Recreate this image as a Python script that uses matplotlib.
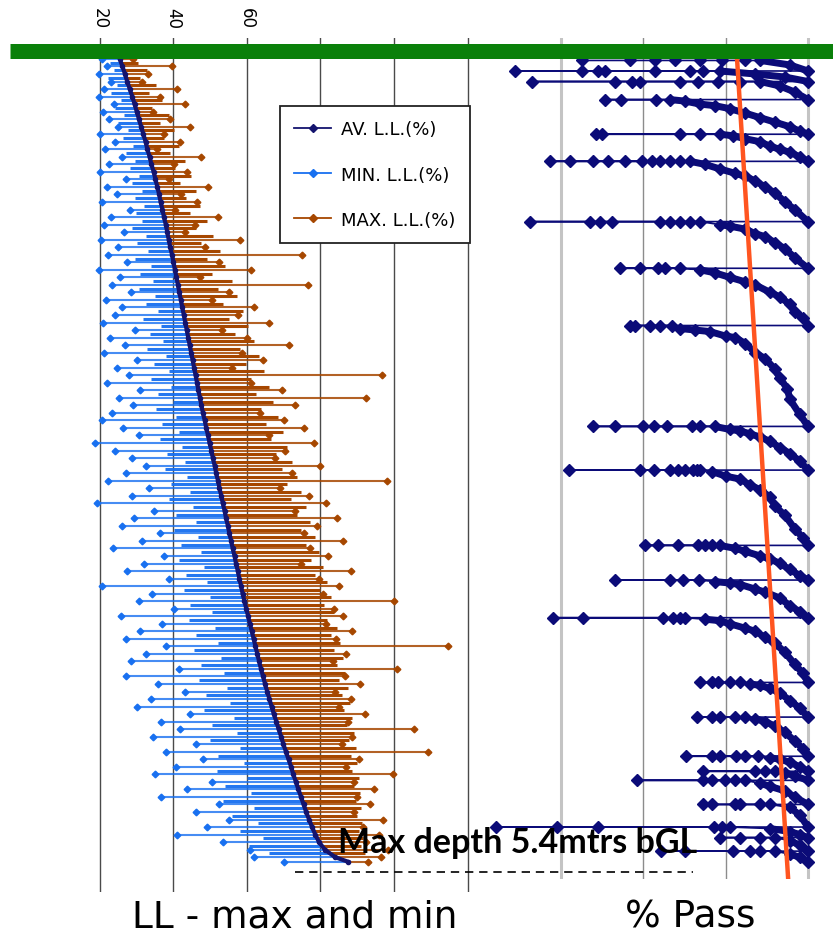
import numpy as np
import matplotlib
matplotlib.use('Agg')
import matplotlib.pyplot as plt
from matplotlib.lines import Line2D

# ── LL data: depth (m bGL), average / min / max liquid limit (%) ─────────────
ll_depth = [0.00, 0.05, 0.10, 0.15, 0.20, 0.25, 0.30, 0.35, 0.40, 0.45,
            0.50, 0.55, 0.60, 0.65, 0.70, 0.75, 0.80, 0.85, 0.90, 0.95,
            1.00, 1.05, 1.10, 1.15, 1.20, 1.25, 1.30, 1.35, 1.40, 1.45,
            1.50, 1.55, 1.60, 1.65, 1.70, 1.75, 1.80, 1.85, 1.90, 1.95,
            2.00, 2.05, 2.10, 2.15, 2.20, 2.25, 2.30, 2.35, 2.40, 2.45,
            2.50, 2.55, 2.60, 2.65, 2.70, 2.75, 2.80, 2.85, 2.90, 2.95,
            3.00, 3.05, 3.10, 3.15, 3.20, 3.25, 3.30, 3.35, 3.40, 3.45,
            3.50, 3.55, 3.60, 3.65, 3.70, 3.75, 3.80, 3.85, 3.90, 3.95,
            4.00, 4.05, 4.10, 4.15, 4.20, 4.25, 4.30, 4.35, 4.40, 4.45,
            4.50, 4.55, 4.60, 4.65, 4.70, 4.75, 4.80, 4.85, 4.90, 4.95,
            5.00, 5.05, 5.10, 5.15, 5.20, 5.25, 5.30, 5.33]
ll_avg = [25.4, 26.1, 26.8, 27.4, 28.1, 28.8, 29.4, 30.0, 30.6, 31.2,
          31.8, 32.4, 32.9, 33.5, 34.0, 34.6, 35.1, 35.6, 36.1, 36.5,
          37.0, 37.4, 37.9, 38.3, 38.7, 39.1, 39.6, 40.0, 40.4, 40.8,
          41.2, 41.6, 42.0, 42.4, 42.8, 43.2, 43.6, 44.0, 44.4, 44.8,
          45.2, 45.6, 46.0, 46.4, 46.8, 47.2, 47.6, 48.0, 48.5, 48.9,
          49.4, 49.8, 50.3, 50.7, 51.2, 51.6, 52.1, 52.5, 53.0, 53.4,
          53.9, 54.3, 54.8, 55.2, 55.7, 56.1, 56.6, 57.0, 57.5, 57.9,
          58.4, 58.8, 59.3, 59.8, 60.3, 60.8, 61.3, 61.8, 62.3, 62.8,
          63.3, 63.8, 64.4, 64.9, 65.5, 66.1, 66.7, 67.3, 68.0, 68.6,
          69.3, 69.9, 70.6, 71.3, 72.0, 72.6, 73.3, 74.0, 74.7, 75.4,
          76.1, 76.9, 77.7, 78.6, 79.6, 81.2, 84.0, 87.5]
ll_min = [20.5, 22.0, 19.8, 23.1, 21.0, 19.6, 23.8, 20.7, 22.5, 25.0,
          20.1, 24.2, 21.3, 26.0, 22.4, 19.9, 27.1, 21.8, 24.6, 20.6,
          28.2, 23.0, 21.2, 26.5, 20.4, 24.8, 22.1, 27.3, 19.6, 25.5,
          23.2, 28.4, 21.6, 26.1, 24.0, 20.9, 29.5, 22.8, 26.7, 21.2,
          30.1, 24.5, 27.8, 22.0, 31.0, 25.3, 28.9, 23.4, 20.5, 26.2,
          30.6, 18.7, 24.1, 28.8, 32.5, 27.0, 22.3, 33.4, 28.6, 19.2,
          34.8, 29.3, 26.0, 36.2, 31.4, 23.6, 37.5, 32.0, 27.4, 38.9,
          20.5, 34.2, 30.5, 40.1, 25.6, 36.8, 30.9, 27.2, 38.0, 32.6,
          28.4, 41.5, 27.0, 35.9, 43.0, 33.8, 30.2, 44.6, 36.5, 41.8,
          34.4, 46.2, 37.9, 48.0, 40.6, 35.0, 50.5, 43.8, 36.6, 52.4,
          46.0, 55.0, 49.2, 41.0, 53.5, 60.8, 62.0, 70.2]
ll_max = [29.0, 39.5, 33.0, 31.5, 41.0, 36.2, 43.0, 34.5, 39.0, 44.5,
          37.5, 41.8, 35.6, 47.5, 40.2, 43.6, 38.8, 49.5, 42.0, 46.3,
          40.5, 52.0, 45.8, 43.0, 58.0, 48.6, 75.0, 52.5, 61.0, 47.2,
          76.5, 55.0, 50.4, 62.0, 57.5, 66.0, 53.2, 60.0, 71.5, 58.6,
          64.3, 55.8, 96.8, 61.2, 69.5, 92.4, 73.0, 63.5, 70.0, 75.6,
          66.0, 78.2, 70.4, 67.5, 80.0, 72.2, 98.0, 69.0, 76.8, 81.5,
          73.0, 84.5, 79.0, 75.5, 86.0, 77.2, 82.0, 74.6, 88.2, 79.5,
          85.0, 80.6, 100.0, 83.8, 86.0, 81.4, 88.5, 84.2, 114.7, 87.0,
          83.4, 100.8, 86.6, 90.8, 84.0, 88.4, 85.0, 92.2, 87.5, 105.4,
          88.6, 85.8, 109.3, 90.4, 87.0, 99.8, 89.2, 94.5, 90.0, 93.5,
          89.0, 97.0, 91.5, 95.8, 92.4, 98.5, 96.5, 93.0]

# in-between test rows (tighter spread, they make up the dense core)
core_depth = [0.025, 0.075, 0.125, 0.175, 0.225, 0.275, 0.325, 0.375, 0.425, 0.475,
              0.525, 0.575, 0.625, 0.675, 0.725, 0.775, 0.825, 0.875, 0.925, 0.975,
              1.025, 1.075, 1.125, 1.175, 1.225, 1.275, 1.325, 1.375, 1.425, 1.475,
              1.525, 1.575, 1.625, 1.675, 1.725, 1.775, 1.825, 1.875, 1.925, 1.975,
              2.025, 2.075, 2.125, 2.175, 2.225, 2.275, 2.325, 2.375, 2.425, 2.475,
              2.525, 2.575, 2.625, 2.675, 2.725, 2.775, 2.825, 2.875, 2.925, 2.975,
              3.025, 3.075, 3.125, 3.175, 3.225, 3.275, 3.325, 3.375, 3.425, 3.475,
              3.525, 3.575, 3.625, 3.675, 3.725, 3.775, 3.825, 3.875, 3.925, 3.975,
              4.025, 4.075, 4.125, 4.175, 4.225, 4.275, 4.325, 4.375, 4.425, 4.475,
              4.525, 4.575, 4.625, 4.675, 4.725, 4.775, 4.825, 4.875, 4.925, 4.975,
              5.025, 5.075, 5.125, 5.175, 5.225, 5.275]
core_avg = [25.8, 26.5, 27.1, 27.8, 28.5, 29.1, 29.7, 30.3, 30.9, 31.5,
            32.1, 32.7, 33.2, 33.8, 34.3, 34.9, 35.4, 35.9, 36.3, 36.8,
            37.2, 37.7, 38.1, 38.5, 38.9, 39.4, 39.8, 40.2, 40.6, 41.0,
            41.4, 41.8, 42.2, 42.6, 43.0, 43.4, 43.8, 44.2, 44.6, 45.0,
            45.4, 45.8, 46.2, 46.6, 47.0, 47.4, 47.8, 48.3, 48.7, 49.2,
            49.6, 50.1, 50.5, 51.0, 51.4, 51.9, 52.3, 52.8, 53.2, 53.7,
            54.1, 54.6, 55.0, 55.5, 55.9, 56.4, 56.8, 57.3, 57.7, 58.2,
            58.6, 59.1, 59.6, 60.1, 60.6, 61.1, 61.6, 62.1, 62.6, 63.1,
            63.6, 64.1, 64.7, 65.2, 65.8, 66.4, 67.0, 67.7, 68.3, 69.0,
            69.6, 70.3, 71.0, 71.7, 72.3, 73.0, 73.7, 74.4, 75.1, 75.8,
            76.5, 77.3, 78.2, 79.1, 80.4, 82.6]
core_min = [22.6, 23.9, 22.3, 24.6, 23.1, 25.8, 24.2, 26.4, 25.0, 27.6,
            26.2, 28.9, 27.0, 29.4, 28.1, 30.5, 28.8, 31.3, 29.6, 32.0,
            29.8, 31.5, 28.6, 32.4, 30.2, 33.1, 29.5, 33.8, 31.0, 34.5,
            30.7, 35.1, 32.4, 35.9, 31.8, 36.6, 33.5, 37.2, 32.9, 38.0,
            34.6, 38.7, 34.0, 39.3, 35.7, 40.0, 35.2, 40.8, 36.9, 41.5,
            36.3, 42.2, 38.1, 43.0, 37.6, 43.7, 39.4, 44.5, 38.8, 45.2,
            40.7, 46.0, 40.1, 46.8, 42.0, 47.5, 41.5, 48.3, 43.3, 49.0,
            42.8, 49.8, 44.6, 50.6, 44.1, 51.4, 46.0, 52.2, 45.5, 53.0,
            47.4, 53.8, 46.9, 54.6, 48.9, 55.5, 48.4, 56.4, 50.5, 57.3,
            50.0, 58.2, 52.2, 59.1, 51.8, 60.0, 54.0, 61.0, 53.6, 62.0,
            56.0, 63.1, 58.0, 64.3, 60.5, 66.0]
core_max = [30.4, 32.8, 31.0, 35.2, 33.4, 36.9, 34.1, 38.7, 36.3, 40.1,
            37.5, 41.6, 39.0, 43.2, 40.5, 44.8, 41.9, 46.0, 43.4, 47.3,
            44.6, 49.2, 46.0, 50.8, 47.5, 52.6, 49.0, 54.1, 50.5, 55.8,
            52.0, 57.2, 53.6, 58.9, 55.2, 60.3, 56.7, 61.8, 58.1, 63.2,
            59.6, 64.5, 61.0, 65.9, 62.4, 67.2, 63.8, 68.5, 65.2, 69.8,
            66.6, 71.0, 68.0, 72.3, 69.4, 73.5, 70.8, 74.8, 72.1, 76.0,
            73.5, 77.2, 74.8, 78.4, 76.1, 79.6, 77.4, 80.7, 78.6, 81.8,
            79.8, 82.8, 80.9, 83.7, 81.9, 84.6, 82.8, 85.4, 83.6, 86.1,
            84.4, 86.8, 85.1, 87.4, 85.8, 88.0, 86.5, 88.6, 87.1, 89.1,
            87.7, 89.6, 88.2, 90.0, 88.7, 90.4, 89.2, 90.8, 89.6, 91.1,
            90.0, 91.4, 90.4, 91.7, 91.0, 92.0]

# ── grading (% pass) samples: each one starts at depth psd_top ───────────────
psd_top = [0.01, 0.08, 0.15, 0.27, 0.50, 0.68, 1.08, 1.39, 1.77, 2.44, 2.73, 3.23,
           3.46, 3.71, 4.14, 4.37, 4.63, 4.73, 4.79, 4.95, 5.10, 5.17, 5.26]
psd_tail = [
    [72.6, 78.4, 81.5, 83.9, 86.9, 89.6, 92.4],
    [64.5, 72.6, 74.5, 75.4, 81.5, 85.7, 87.3],
    [66.5, 76.6, 78.7, 79.6, 84.5, 86.7, 89.1, 91.8],
    [75.4, 77.3, 81.6],
    [74.3, 75.0, 84.5, 86.9],
    [68.7, 71.2, 73.9, 75.8, 77.8, 79.9, 81.1, 82.1, 83.3, 84.5],
    [66.3, 73.6, 74.8, 76.2, 82.1, 83.3, 84.5, 85.7, 86.9],
    [77.2, 79.6, 81.8, 82.7, 84.5],
    [78.4, 79.0, 80.8, 82.1, 83.5],
    [73.9, 76.6, 80.0, 81.3, 82.9, 85.9, 86.9],
    [71.0, 79.6, 81.3, 83.3, 84.2, 85.1, 86.1, 86.5, 86.9],
    [80.2, 81.8, 84.2, 86.7, 87.5, 88.4],
    [76.6, 83.3, 84.8, 86.8],
    [69.1, 72.7, 82.4, 83.6, 84.5, 85.1],
    [86.9, 88.4, 89.1, 90.5, 91.8],
    [86.5, 88.4, 89.3, 91.2, 92.4],
    [85.2, 88.4, 89.3, 91.3, 92.4, 93.9],
    [87.3, 93.6, 94.8, 96.0],
    [79.3, 87.3, 88.4, 89.9, 91.2, 92.4],
    [87.3, 88.4, 91.2, 91.8, 94.2, 95.4],
    [62.2, 69.6, 74.5, 88.6, 89.6, 90.5],
    [89.3, 91.8, 94.2, 96.0],
    [82.2, 85.1, 90.9, 93.0, 94.2, 96.0],
]
psd_curve_pass = [
    [94.2, 97.8, 100.0],
    [89.3, 93.6, 97.2, 100.0],
    [94.2, 96.6, 98.4, 100.0],
    [83.3, 85.1, 86.9, 88.7, 90.5, 92.4, 94.2, 96.0, 97.8, 99.0, 100.0],
    [89.3, 90.9, 92.4, 94.2, 95.4, 96.6, 97.8, 99.0, 100.0],
    [85.7, 87.5, 89.3, 91.2, 92.4, 93.6, 94.8, 96.0, 97.2, 98.4, 100.0],
    [89.3, 90.5, 92.4, 93.6, 94.8, 96.0, 97.2, 98.4, 100.0],
    [86.9, 88.7, 90.5, 92.4, 93.6, 95.4, 96.6, 97.8, 98.4, 99.4, 100.0],
    [84.5, 86.3, 88.1, 90.0, 91.2, 92.4, 93.6, 94.8, 96.0, 96.6, 97.5, 97.8, 99.0, 100.0],
    [88.7, 90.5, 91.8, 93.0, 94.2, 95.4, 96.6, 97.8, 99.0, 100.0],
    [88.4, 90.0, 91.8, 93.0, 94.2, 95.4, 96.0, 97.2, 98.4, 99.4, 100.0],
    [89.3, 91.2, 92.4, 94.2, 95.4, 96.6, 97.8, 99.0, 100.0],
    [88.7, 90.5, 91.8, 93.6, 94.8, 96.6, 97.8, 99.0, 100.0],
    [87.5, 89.3, 90.5, 92.4, 93.6, 94.8, 96.0, 97.2, 98.4, 99.4, 100.0],
    [93.0, 94.2, 95.4, 96.6, 97.8, 99.0, 100.0],
    [93.6, 94.8, 96.0, 97.2, 98.4, 99.4, 100.0],
    [95.4, 96.6, 97.8, 99.0, 100.0],
    [97.2, 98.4, 100.0],
    [94.2, 95.4, 97.2, 98.4, 100.0],
    [97.8, 99.0, 100.0],
    [95.4, 97.8, 99.0, 100.0],
    [97.8, 99.0, 100.0],
    [97.8, 99.0, 100.0],
]
psd_curve_depth = [
    [0.01, 0.04, 0.08],
    [0.08, 0.10, 0.12, 0.15],
    [0.15, 0.18, 0.22, 0.27],
    [0.27, 0.28, 0.30, 0.31, 0.33, 0.36, 0.39, 0.42, 0.45, 0.48, 0.50],
    [0.50, 0.51, 0.53, 0.55, 0.58, 0.60, 0.62, 0.65, 0.68],
    [0.68, 0.70, 0.73, 0.76, 0.78, 0.81, 0.85, 0.89, 0.95, 1.00, 1.08],
    [1.10, 1.11, 1.13, 1.16, 1.18, 1.22, 1.26, 1.32, 1.39],
    [1.40, 1.42, 1.45, 1.48, 1.50, 1.55, 1.58, 1.63, 1.68, 1.72, 1.77],
    [1.79, 1.80, 1.81, 1.84, 1.85, 1.89, 1.95, 1.99, 2.06, 2.12, 2.19, 2.26, 2.36, 2.44],
    [2.44, 2.46, 2.47, 2.49, 2.51, 2.54, 2.58, 2.62, 2.67, 2.73],
    [2.74, 2.77, 2.79, 2.83, 2.86, 2.91, 2.97, 3.03, 3.12, 3.18, 3.23],
    [3.23, 3.25, 3.27, 3.30, 3.32, 3.35, 3.39, 3.43, 3.46],
    [3.47, 3.48, 3.49, 3.52, 3.54, 3.58, 3.63, 3.67, 3.71],
    [3.72, 3.73, 3.75, 3.78, 3.80, 3.84, 3.88, 3.94, 4.02, 4.08, 4.14],
    [4.15, 4.16, 4.18, 4.21, 4.26, 4.31, 4.37],
    [4.38, 4.40, 4.43, 4.47, 4.53, 4.58, 4.63],
    [4.64, 4.65, 4.67, 4.70, 4.73],
    [4.74, 4.76, 4.79],
    [4.81, 4.83, 4.86, 4.90, 4.95],
    [4.97, 5.02, 5.10],
    [5.11, 5.13, 5.15, 5.17],
    [5.19, 5.22, 5.26],
    [5.28, 5.30, 5.33],
]

trend_depth = [0.0, 5.45]
trend_pass = [91.4, 97.6]

max_depth = 5.4
ll_grid = [20, 40, 60, 80, 100, 120]
ll_ticklabels = ['20', '40', '60', '', '', '']
pass_grid = [70, 80, 90, 100]

c_av = '#14146e'
c_min = '#1870f0'
c_max = '#a64700'
c_psd = '#0b0b78'

# ── figure ──────────────────────────────────────────────────────────────────
W, H = 833, 937
fig = plt.figure(figsize=(W / 100, H / 100), dpi=100)
fig.patch.set_facecolor('white')

ax = fig.add_axes([80 / W, 1 - 893 / H, 400 / W, 854 / H], zorder=3)
axr = fig.add_axes([480 / W, 1 - 880 / H, 353 / W, 841 / H], zorder=2)
for a in (ax, axr):
    a.set_facecolor('none')
    for s in a.spines.values():
        s.set_visible(False)
    a.tick_params(left=False, labelleft=False, bottom=False, labelbottom=False)

# left panel: LL ranges
ax.set_xlim(14.56, 123.4)
ax.set_ylim(5.531, -0.139)
for g in ll_grid:
    ax.axvline(g, color='#4a4a4a', lw=1.0, zorder=0)

ax.hlines(core_depth, core_min, core_avg, color=c_min, lw=2.2, alpha=0.95, zorder=2)
ax.hlines(core_depth, core_avg, core_max, color=c_max, lw=2.2, zorder=2)

ax.hlines(ll_depth, ll_min, ll_avg, color=c_min, lw=1.5, alpha=0.8, zorder=2)
ax.hlines(ll_depth, ll_avg, ll_max, color=c_max, lw=1.5, alpha=0.85, zorder=2)
ax.plot(ll_min, ll_depth, 'D', color=c_min, ms=3.4, zorder=3)
ax.plot(ll_max, ll_depth, 'D', color=c_max, ms=3.4, zorder=3)
ax.plot(ll_avg, ll_depth, '-', color=c_av, lw=3.0, marker='o', ms=3, zorder=4)

ax.xaxis.tick_top()
ax.set_xticks(ll_grid)
ax.set_xticklabels(ll_ticklabels, rotation=-90, fontsize=12)
ax.tick_params(axis='x', which='both', top=False, labeltop=True,
               bottom=False, labelbottom=False, length=0, pad=7)

# ground level bar
ax.axhline(-0.056, xmin=(10 - 80) / 400, xmax=(833 - 80) / 400, color='#0a800a',
           lw=10.8, solid_capstyle='butt', clip_on=False, zorder=6)

# max depth marker
ax.axhline(max_depth, xmin=(295 - 80) / 400, xmax=(693 - 80) / 400, color='black',
           lw=1.2, ls=(0, (5, 3.5)), clip_on=False, zorder=6)
ax.text(84.8, 5.266, f'Max depth {max_depth}mtrs bGL', fontsize=24.5, fontweight='bold',
        family='Lato', ha='left', va='baseline', zorder=7)

handles = [Line2D([], [], color=c_av, marker='D', ms=4, lw=1.3),
           Line2D([], [], color=c_min, marker='D', ms=4, lw=1.3),
           Line2D([], [], color=c_max, marker='D', ms=4, lw=1.3)]
leg = ax.legend(handles, ['AV. L.L.(%)', 'MIN. L.L.(%)', 'MAX. L.L.(%)'],
                loc='upper left', bbox_to_anchor=(280 / W, 1 - 107 / H),
                bbox_transform=fig.transFigure, borderaxespad=0, fontsize=13,
                frameon=True, fancybox=False, edgecolor='#222222', framealpha=1,
                handlelength=2.0, handletextpad=0.6, labelspacing=1.5,
                borderpad=0.8)
leg.get_frame().set_linewidth(1.3)

ax.text(0.5375, -0.04, 'LL - max and min', transform=ax.transAxes,
        ha='center', va='baseline', fontsize=27)

# right panel: % pass
axr.set_xlim(60.24, 103.03)
axr.set_ylim(5.445, -0.139)
for g, c, w in zip(pass_grid, ['#c4c4c4', '#8c8c8c', '#8c8c8c', '#c4c4c4'], [2.2, 1.0, 1.0, 2.2]):
    axr.axvline(g, color=c, lw=w, zorder=0)

xs, ys = [], []
for top, tail, cp, cd in zip(psd_top, psd_tail, psd_curve_pass, psd_curve_depth):
    xs += tail
    ys += [top] * len(tail)
    xs += cp
    ys += cd
    axr.plot(cp, cd, color=c_psd, lw=5, solid_capstyle='round', zorder=2)
axr.plot(xs, ys, color=c_psd, lw=1.2, marker='D', ms=6, zorder=3)

axr.plot(trend_pass, trend_depth, color='#ff5520', lw=3.2, zorder=4)

axr.text(0.596, -0.0559, '% Pass', transform=axr.transAxes,
         ha='center', va='baseline', fontsize=27)

fig.savefig('out.png', dpi=100, facecolor='white')
